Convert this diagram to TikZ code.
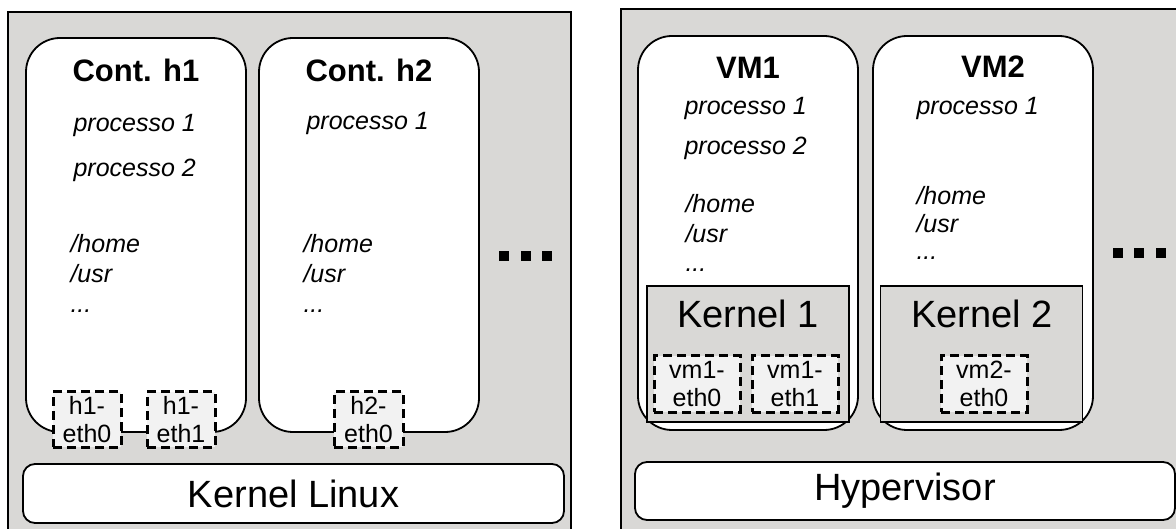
\documentclass[tikz,border=0pt]{standalone}
\usepackage{fontspec}
\setmainfont{Liberation Sans}
\definecolor{hostgray}{RGB}{217,216,214}
\definecolor{ifacegray}{RGB}{242,242,242}

\begin{document}
\begin{tikzpicture}[x=1pt,y=-1pt,
    host/.style={draw,line width=2pt,fill=hostgray},
    guest/.style={draw,line width=1.8pt,fill=white,rounded corners=34pt,
      minimum width=220pt,minimum height=394pt,inner sep=0pt},
    kernbox/.style={draw,line width=1.5pt,fill=hostgray,inner sep=0pt,
      minimum width=202pt,minimum height=136pt},
    basebox/.style={draw,line width=1.8pt,fill=white,rounded corners=12pt,
      inner sep=0pt,font=\fontsize{38}{44}\selectfont},
    iface/.style={draw,line width=3pt,dash pattern=on 9pt off 5pt,
      fill=ifacegray,inner sep=0pt,align=center,minimum height=55pt,
      font=\fontsize{25}{28}\selectfont},
    title/.style={anchor=base,font=\fontsize{31}{36}\selectfont\bfseries},
    proc/.style={anchor=base west,font=\fontsize{25}{30}\selectfont\itshape},
    klabel/.style={anchor=base,font=\fontsize{38}{44}\selectfont},
    dot/.style={fill=black,inner sep=0pt,minimum size=10pt}]
    \useasboundingbox (0,0) rectangle (1176,529);
    \clip (0,0) rectangle (1176,529);
    %% Draw the hosts
    \draw[host] (8,12) rectangle (571,545);
    \draw[host] (621,9) rectangle (1190,545);
    %% Draw the containers and the VMs
    \node[guest] (contA) at (136,235) {};
    \node[guest] (contB) at (369,235) {};
    \node[guest] (vmA) at (748,233) {};
    \node[guest] (vmB) at (983,233) {};
    %% Draw the guest kernels
    \node[kernbox] (kernA) at (748,354) {};
    \node[kernbox] (kernB) at (981.5,354) {};
    \node[klabel] (kernAtxt) at (748,328) {Kernel 1};
    \node[klabel] (kernBtxt) at (982,328) {Kernel 2};
    %% Draw the interfaces
    \node[iface,minimum width=68pt] (hAeth0) at (87,419.5) {h1-\\eth0};
    \node[iface,minimum width=68pt] (hAeth1) at (181,419.5) {h1-\\eth1};
    \node[iface,minimum width=69pt] (hBeth0) at (368.5,419.5) {h2-\\eth0};
    \node[iface,minimum width=86pt,minimum height=56pt] (vmAeth0) at (697,384) {vm1-\\eth0};
    \node[iface,minimum width=86pt,minimum height=56pt] (vmAeth1) at (795,384) {vm1-\\eth1};
    \node[iface,minimum width=86pt,minimum height=56pt] (vmBeth0) at (984,384) {vm2-\\eth0};
    %% Draw the host kernel and the hypervisor
    \node[basebox,minimum width=541pt,minimum height=59pt] (kernLinux) at (293.5,493.5) {Kernel Linux};
    \node[basebox,minimum width=540pt,minimum height=58pt] (hyper) at (905,491) {Hypervisor};
    %% Draw the texts of the containers
    \node[title] (contAtitle) at (136,82) {Cont. h1};
    \node[proc] (contAp1) at (70,132) {processo 1};
    \node[proc] (contAp2) at (70,177) {processo 2};
    \node[proc] (contAhome) at (67,253) {/home};
    \node[proc] (contAusr) at (67,283) {/usr};
    \node[proc] (contAdots) at (67,313) {...};
    \node[title] (contBtitle) at (369,82) {Cont. h2};
    \node[proc] (contBp1) at (303,130) {processo 1};
    \node[proc] (contBhome) at (300,253) {/home};
    \node[proc] (contBusr) at (300,283) {/usr};
    \node[proc] (contBdots) at (300,313) {...};
    %% Draw the texts of the VMs
    \node[title] (vmAtitle) at (748,79) {VM1};
    \node[proc] (vmAp1) at (681,115) {processo 1};
    \node[proc] (vmAp2) at (681,155) {processo 2};
    \node[proc] (vmAhome) at (682,213) {/home};
    \node[proc] (vmAusr) at (682,243) {/usr};
    \node[proc] (vmAdots) at (682,272) {...};
    \node[title] (vmBtitle) at (993,78) {VM2};
    \node[proc] (vmBp1) at (913,115) {processo 1};
    \node[proc] (vmBhome) at (913,205) {/home};
    \node[proc] (vmBusr) at (913,233) {/usr};
    \node[proc] (vmBdots) at (913,260) {...};
    %% Draw the dots
    \foreach \x [count=\i] in {504,526,547} {
      \node[dot] (dotA\i) at (\x,256) {};
    }
    \foreach \x [count=\i] in {1118,1139,1161} {
      \node[dot] (dotB\i) at (\x,253) {};
    }
  \end{tikzpicture}
\end{document}
